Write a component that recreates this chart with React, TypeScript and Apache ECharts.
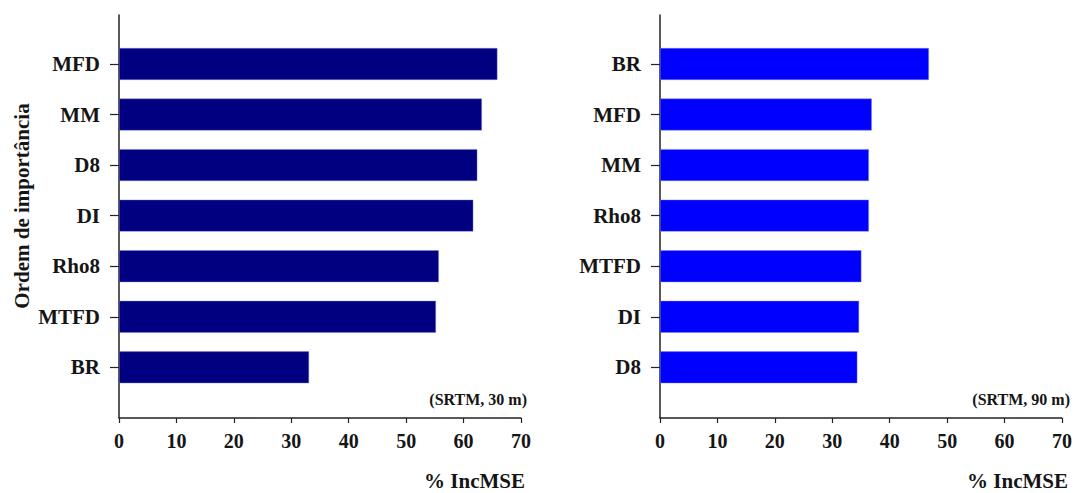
import React, { useEffect, useRef } from "react";
import * as echarts from "echarts";

const leftCategories = ["MFD", "MM", "D8", "DI", "Rho8", "MTFD", "BR"];
const leftValues = [65.9, 63.2, 62.4, 61.7, 55.7, 55.2, 33.1];
const rightCategories = ["BR", "MFD", "MM", "Rho8", "MTFD", "DI", "D8"];
const rightValues = [46.6, 36.7, 36.2, 36.2, 34.9, 34.5, 34.2];
const xMin = 0;
const xMax = 70;
const xInterval = 10;
const leftNote = "(SRTM, 30 m)";
const rightNote = "(SRTM, 90 m)";
const xTitle = "% IncMSE";
const yTitle = "Ordem de importância";

const FONT = '"Liberation Serif", "Times New Roman", serif';
const TXT = "#151515";

export default function App() {
  const ref = useRef<HTMLDivElement>(null);
  useEffect(() => {
    if (!ref.current) return;
    const chart = echarts.init(ref.current, undefined, { renderer: "svg" });
    const panels = [
      { left: 119, width: 402, cats: leftCategories, vals: leftValues, color: "#000080", note: leftNote },
      { left: 660, width: 404, cats: rightCategories, vals: rightValues, color: "#0000ff", note: rightNote },
    ];
    const grids: any[] = [];
    const xAxes: any[] = [];
    const yAxes: any[] = [];
    const series: any[] = [];
    const graphics: any[] = [];
    panels.forEach((p) => {
      const gBar = grids.length;
      grids.push({ left: p.left, top: 38.7, width: p.width, height: 353.9 });
      const gFrame = grids.length;
      grids.push({ left: p.left, top: 15, width: p.width, height: 403 });
      xAxes.push({
        gridIndex: gBar, type: "value", min: xMin, max: xMax, interval: xInterval, show: false,
      });
      yAxes.push({
        gridIndex: gBar, type: "category", inverse: true, data: p.cats,
        axisLine: { show: false },
        axisTick: { show: true, alignWithLabel: true, length: 9, lineStyle: { color: "#222", width: 1.2 } },
        axisLabel: { margin: 19, color: TXT, fontFamily: FONT, fontWeight: "bold", fontSize: 21 },
        splitLine: { show: false },
      });
      xAxes.push({
        gridIndex: gFrame, type: "value", min: xMin, max: xMax, interval: xInterval,
        axisLine: { show: true, lineStyle: { color: "#222", width: 1.5 } },
        axisTick: { show: true, length: 5, lineStyle: { color: "#222", width: 1.2 } },
        axisLabel: { margin: 13, color: TXT, fontFamily: FONT, fontWeight: "bold", fontSize: 20 },
        splitLine: { show: false },
      });
      yAxes.push({
        gridIndex: gFrame, type: "value", min: 0, max: 1,
        axisLine: { show: true, lineStyle: { color: "#222", width: 1.5 } },
        axisTick: { show: false }, axisLabel: { show: false }, splitLine: { show: false },
      });
      series.push({
        type: "bar", xAxisIndex: xAxes.length - 2, yAxisIndex: yAxes.length - 2,
        data: p.vals, barWidth: 32,
        itemStyle: { color: p.color, borderColor: "rgba(130,130,220,0.7)", borderWidth: 0.6 },
      });
      graphics.push({
        type: "text", x: p.left + p.width + 6, y: 399,
        style: { text: p.note, align: "right", verticalAlign: "middle", fill: TXT, font: `bold 16px ${FONT}` },
      });
      graphics.push({
        type: "text", x: p.left + p.width + 4, y: 481,
        style: { text: xTitle, align: "right", verticalAlign: "middle", fill: TXT, font: `bold 21px ${FONT}` },
      });
    });
    graphics.push({
      type: "text", x: 22, y: 206, rotation: Math.PI / 2,
      style: { text: yTitle, align: "center", verticalAlign: "middle", fill: TXT, font: `bold 21px ${FONT}` },
    });
    chart.setOption({
      animation: false,
      backgroundColor: "#ffffff",
      grid: grids,
      xAxis: xAxes,
      yAxis: yAxes,
      series,
      graphic: graphics,
    });
    return () => chart.dispose();
  }, []);
  return (
    <div
      ref={ref}
      style={{ position: "absolute", left: 0, top: 0, width: 1075, height: 493 }}
    />
  );
}
